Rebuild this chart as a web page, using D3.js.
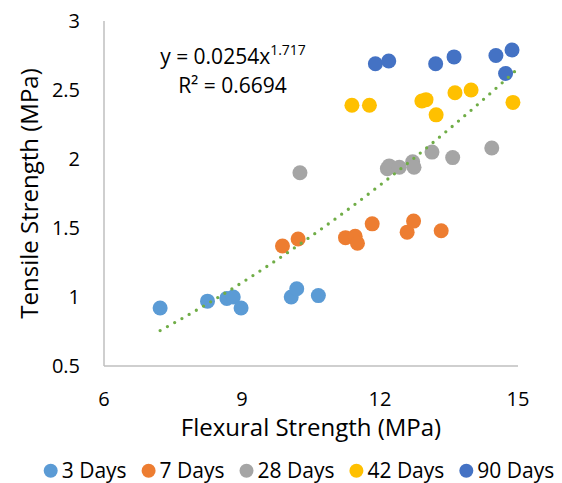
<!DOCTYPE html>
<meta charset="utf-8">
<head>
    <script src="https://d3js.org/d3.v7.min.js"></script>
    <style>
        body { margin: 0; background: #fff; }
        text { font-family: "Open Sans", sans-serif; fill: #000; }
    </style>
</head>
<body>
<div id="chart"></div>
<script>
    // series names and colours
    const seriesNames = ["3 Days", "7 Days", "28 Days", "42 Days", "90 Days"]
    const seriesColors = ["#5B9BD5", "#ED7D31", "#A5A5A5", "#FFC000", "#4472C4"]

    // flexural (x) / tensile (y) pairs
    const days3 = [[7.22, 0.92], [8.25, 0.97], [8.67, 0.99], [8.81, 1.0], [8.98, 0.92], [10.07, 1.0], [10.19, 1.06], [10.66, 1.01]]
    const days7 = [[9.88, 1.37], [10.22, 1.42], [11.25, 1.43], [11.46, 1.44], [11.51, 1.39], [11.83, 1.53], [12.59, 1.47], [12.73, 1.55], [13.33, 1.48]]
    const days28 = [[10.26, 1.90], [12.16, 1.93], [12.20, 1.95], [12.42, 1.94], [12.71, 1.98], [12.74, 1.94], [13.13, 2.05], [13.58, 2.01], [14.43, 2.08]]
    const days42 = [[11.39, 2.39], [11.77, 2.39], [12.91, 2.42], [13.0, 2.43], [13.22, 2.32], [13.63, 2.48], [13.98, 2.50], [14.89, 2.41]]
    const days90 = [[11.90, 2.69], [12.19, 2.71], [13.21, 2.69], [13.61, 2.74], [14.52, 2.75], [14.87, 2.79], [14.73, 2.62]]

    const xTicks = [6, 9, 12, 15]
    const yTicks = [0.5, 1, 1.5, 2, 2.5, 3]

    // power trendline shown on the chart: y = a * x^b
    const trendA = 0.0254
    const trendB = 1.717
    const trendR2 = 0.6694
    const trendStart = 7.22
    const trendEnd = 15

    const allSeries = [days3, days7, days28, days42, days90]

    const svg = d3.select("#chart").append("svg")
        .attr("width", 562)
        .attr("height", 483)

    const x = d3.scaleLinear().domain([6, 15]).range([104, 518])
    const y = d3.scaleLinear().domain([0.5, 3]).range([366, 21])

    // axis lines
    svg.append("line")
        .attr("x1", x(6)).attr("x2", x(6))
        .attr("y1", y(3)).attr("y2", y(0.5))
        .attr("stroke", "#BFBFBF").attr("stroke-width", 1.5)
    svg.append("line")
        .attr("x1", x(6)).attr("x2", x(15))
        .attr("y1", y(0.5)).attr("y2", y(0.5))
        .attr("stroke", "#BFBFBF").attr("stroke-width", 1.5)

    // tick labels
    svg.selectAll(".ytick")
        .data(yTicks)
        .enter()
        .append("text")
        .attr("class", "ytick")
        .attr("x", 80)
        .attr("y", d => y(d) + 7)
        .attr("text-anchor", "end")
        .attr("font-size", 20)
        .text(d => d)

    svg.selectAll(".xtick")
        .data(xTicks)
        .enter()
        .append("text")
        .attr("class", "xtick")
        .attr("x", d => x(d))
        .attr("y", 406)
        .attr("text-anchor", "middle")
        .attr("font-size", 20)
        .text(d => d)

    // axis titles
    svg.append("text")
        .attr("x", (x(6) + x(15)) / 2)
        .attr("y", 436)
        .attr("text-anchor", "middle")
        .attr("font-size", 24)
        .text("Flexural Strength (MPa)")

    svg.append("text")
        .attr("transform", `translate(38, ${(y(0.5) + y(3)) / 2}) rotate(-90)`)
        .attr("text-anchor", "middle")
        .attr("font-size", 24)
        .text("Tensile Strength (MPa)")

    // points
    allSeries.forEach((s, i) => {
        svg.append("g")
            .selectAll("circle")
            .data(s)
            .enter()
            .append("circle")
            .attr("cx", d => x(d[0]))
            .attr("cy", d => y(d[1]))
            .attr("r", 7.5)
            .attr("fill", seriesColors[i])
    })

    // trendline (drawn over the markers like Excel does)
    const trendXs = d3.range(trendStart, trendEnd + 0.001, 0.05)
    svg.append("path")
        .datum(trendXs)
        .attr("fill", "none")
        .attr("stroke", "#70AD47")
        .attr("stroke-width", 3.3)
        .attr("stroke-linecap", "round")
        .attr("stroke-dasharray", "0 8.3")
        .attr("d", d3.line()
            .x(d => x(d))
            .y(d => y(trendA * Math.pow(d, trendB))))

    // equation label
    const eq = svg.append("text")
        .attr("x", 233)
        .attr("y", 64)
        .attr("text-anchor", "middle")
        .attr("font-size", 21)
    eq.append("tspan").text("y = " + trendA + "x")
    eq.append("tspan").attr("dy", -9).attr("font-size", 14).text(trendB)

    svg.append("text")
        .attr("x", 232.5)
        .attr("y", 93)
        .attr("text-anchor", "middle")
        .attr("font-size", 21)
        .text("R² = " + trendR2)

    // legend, laid out from the text widths
    const legend = svg.append("g")
    let lx = 50.7
    seriesNames.forEach((name, i) => {
        legend.append("circle")
            .attr("cx", lx)
            .attr("cy", 470.7)
            .attr("r", 7)
            .attr("fill", seriesColors[i])
        const t = legend.append("text")
            .attr("x", lx + 11)
            .attr("y", 477.5)
            .attr("font-size", 21)
            .text(name)
        lx = lx + 11 + t.node().getComputedTextLength() + 22
    })
</script>
</body>
